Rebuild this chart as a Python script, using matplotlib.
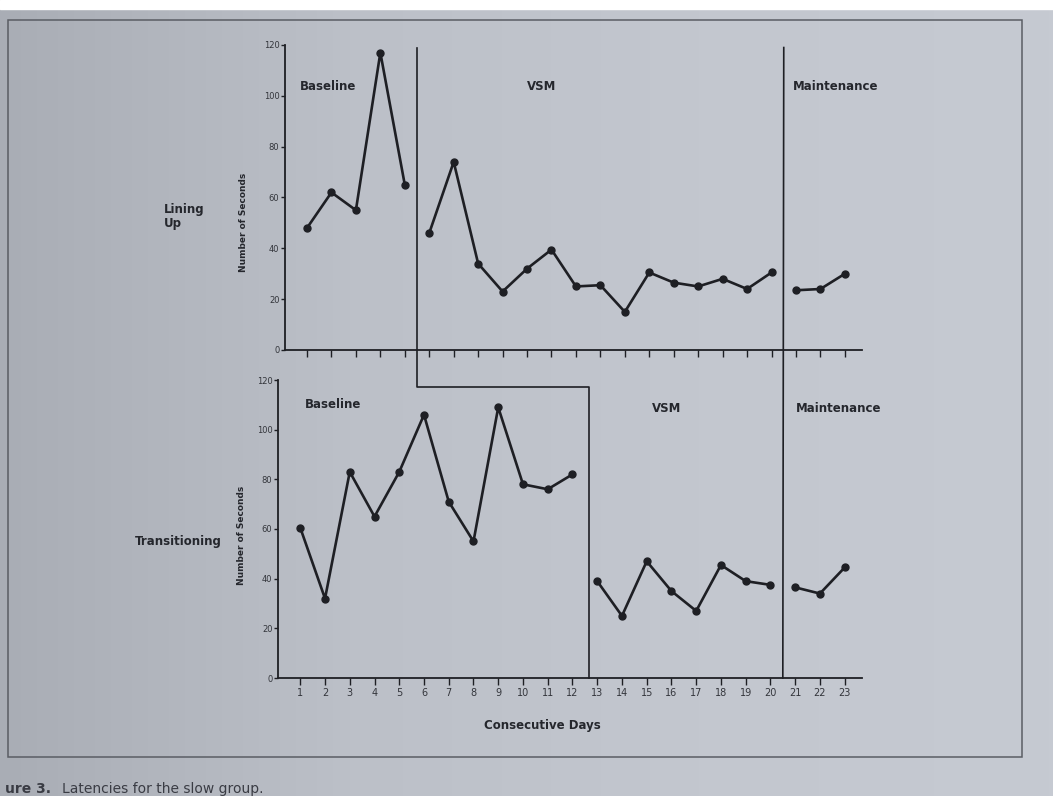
import numpy as np
import matplotlib
matplotlib.use('Agg')
import matplotlib.pyplot as plt
from matplotlib.lines import Line2D
from matplotlib.patches import Rectangle

# consecutive days and latencies (seconds)
days = list(range(1, 24))
lining_up = [48, 62, 55, 117, 65, 46, 74, 34, 23, 32, 39.5, 25, 25.5, 15,
             30.5, 26.5, 25, 28, 24, 30.5, 23.5, 24, 30]
transitioning = [60.5, 32, 83, 65, 83, 106, 71, 55, 109, 78, 76, 82, 39, 25,
                 47, 35, 27, 45.5, 39, 37.5, 36.5, 34, 44.5]
# phase segments (first day, last day)
lining_phases = [(1, 5), (6, 20), (21, 23)]
trans_phases = [(1, 12), (13, 20), (21, 23)]
y_ticks = [0, 20, 40, 60, 80, 100, 120]

W, H = 1053, 796
ink = '#1e1f24'
fig = plt.figure(figsize=(W / 100, H / 100), dpi=100)
fig.patch.set_facecolor('#bec2ca')

# photographed page background
bg = fig.add_axes([0, 0, 1, 1], zorder=-10)
grad = np.linspace(0, 1, 256)[None, :]
bg.imshow(grad, aspect='auto', cmap=matplotlib.colors.LinearSegmentedColormap.from_list(
    'pg', ['#a9adb5', '#bcc0c8', '#c3c7cf', '#c6cad2']), extent=[0, 1, 0, 1])
bg.add_patch(Rectangle((0, 1 - 9 / H), 1, 9 / H, color='white'))
bg.add_patch(Rectangle((8 / W, 1 - 757 / H), (1022 - 8) / W, (757 - 20) / H,
                       fill=False, ec='#5a5d64', lw=1.1))
bg.set_xlim(0, 1)
bg.set_ylim(0, 1)
bg.axis('off')


def px_box(x0, x1, ytop, ybot):
    return [x0 / W, 1 - ybot / H, (x1 - x0) / W, (ybot - ytop) / H]


ax1 = fig.add_axes(px_box(285, 862, 45, 350))
ax2 = fig.add_axes(px_box(278, 862, 380, 678))

for ax, vals, phases in [(ax1, lining_up, lining_phases), (ax2, transitioning, trans_phases)]:
    ax.set_facecolor('none')
    for a, b in phases:
        ax.plot(days[a - 1:b], vals[a - 1:b], color=ink, lw=1.9, marker='o',
                ms=5, mfc=ink, mec=ink, clip_on=False)
    ax.set_xlim(0.1, 23.7)
    ax.set_ylim(0, 120)
    ax.set_yticks(y_ticks)
    ax.set_xticks(days)
    for s in ['top', 'right']:
        ax.spines[s].set_visible(False)
    for s in ['left', 'bottom']:
        ax.spines[s].set_color(ink)
        ax.spines[s].set_linewidth(1.3)
    ax.tick_params(axis='y', direction='out', length=3, width=1, colors=ink,
                   labelsize=6, labelcolor='#33353b', pad=1)
    ax.tick_params(axis='x', direction='out', length=5, width=1, colors=ink,
                   labelsize=7, labelcolor='#33353b', pad=2)

ax1.set_xticklabels([])

# phase change lines, built from both axes' data coordinates
to_fig = fig.transFigure.inverted()


def fpt(ax, x, y):
    return to_fig.transform(ax.transData.transform((x, y)))


p_top = fpt(ax1, 5.5, 119)
p_knee = fpt(ax1, 5.5, -14.5)
p_right = fpt(ax2, 12.65, 0)
step_x = [p_top[0], p_knee[0], p_right[0], p_right[0]]
step_y = [p_top[1], p_knee[1], p_knee[1], p_right[1]]
fig.add_artist(Line2D(step_x, step_y, transform=fig.transFigure, color=ink, lw=1.2))

m_top = fpt(ax1, 20.5, 119)
m_bot = fpt(ax2, 20.5, 0)
fig.add_artist(Line2D([m_top[0], m_bot[0]], [m_top[1], m_bot[1]],
                      transform=fig.transFigure, color=ink, lw=1.2))

# text
bold = dict(fontweight='bold', color='#25272d', fontsize=8.5, family='DejaVu Sans')


def ftext(x, y, s, **kw):
    fig.text(x / W, 1 - y / H, s, **kw)


ftext(300, 87, 'Baseline', va='center', **bold)
ftext(527, 87, 'VSM', va='center', **bold)
ftext(793, 87, 'Maintenance', va='center', **bold)
ftext(305, 405, 'Baseline', va='center', **bold)
ftext(652, 408, 'VSM', va='center', **bold)
ftext(796, 408, 'Maintenance', va='center', **bold)
ftext(164, 216, 'Lining\nUp', va='center', linespacing=1.1, **bold)
ftext(135, 542, 'Transitioning', va='center', **bold)
ftext(542, 726, 'Consecutive Days', ha='center', va='center', **bold)
ftext(244, 222, 'Number of Seconds', rotation=90, ha='center', va='center',
      fontsize=6.5, fontweight='bold', color='#25272d')
ftext(242, 535, 'Number of Seconds', rotation=90, ha='center', va='center',
      fontsize=6.5, fontweight='bold', color='#25272d')
ftext(5, 789, 'ure 3.', va='center', fontsize=10, fontweight='bold', color='#3a3c44')
ftext(62, 789, 'Latencies for the slow group.', va='center', fontsize=10,
      color='#3a3c44')

fig.savefig('out.png', dpi=100, facecolor=fig.get_facecolor())
